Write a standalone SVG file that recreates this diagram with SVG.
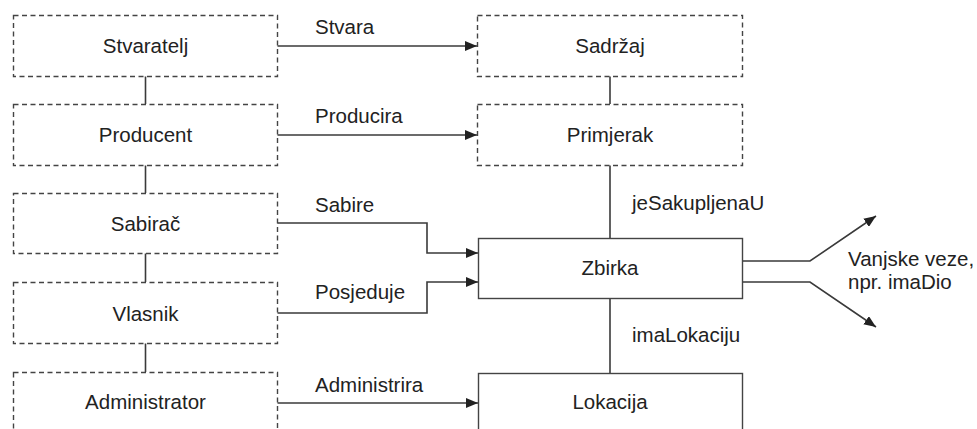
<svg xmlns="http://www.w3.org/2000/svg" width="977" height="429" viewBox="0 0 977 429">
  <style>
    .box { fill: #ffffff; stroke: #444; stroke-width: 1.4; }
    .dash { stroke-dasharray: 5 3.5; }
    .line { fill: none; stroke: #3a3a3a; stroke-width: 1.6; }
    .txt { font-family: "Liberation Sans", Arial, sans-serif; font-size: 20.5px; fill: #222; }
    .mid { text-anchor: middle; }
  </style>
  <defs>
    <marker id="arrow" markerWidth="12" markerHeight="10" refX="12" refY="5" orient="auto" markerUnits="userSpaceOnUse">
      <path d="M0,0 L12,5 L0,10 Z" fill="#222"/>
    </marker>
  </defs>
  <rect width="977" height="429" fill="#ffffff"/>

  <!-- connectors -->
  <g id="connectors">
    <!-- left column links -->
    <line class="line" x1="145.5" y1="76" x2="145.5" y2="104"/>
    <line class="line" x1="145.5" y1="165" x2="145.5" y2="193"/>
    <line class="line" x1="145.5" y1="253" x2="145.5" y2="282"/>
    <line class="line" x1="145.5" y1="343" x2="145.5" y2="372"/>
    <!-- right column links -->
    <line class="line" x1="610" y1="76" x2="610" y2="104"/>
    <line class="line" x1="610" y1="165" x2="610" y2="238"/>
    <line class="line" x1="610" y1="298" x2="610" y2="373"/>
    <!-- relations -->
    <line class="line" x1="277" y1="46" x2="477" y2="46" marker-end="url(#arrow)"/>
    <line class="line" x1="277" y1="135" x2="477" y2="135" marker-end="url(#arrow)"/>
    <polyline class="line" points="277,223 427,223 427,253 478,253" marker-end="url(#arrow)"/>
    <polyline class="line" points="277,313 427,313 427,282 478,282" marker-end="url(#arrow)"/>
    <line class="line" x1="277" y1="403" x2="478" y2="403" marker-end="url(#arrow)"/>
    <!-- outgoing links -->
    <polyline class="line" points="742,261 810,261 876,216" marker-end="url(#arrow)"/>
    <polyline class="line" points="742,282 810,282 876,327" marker-end="url(#arrow)"/>
  </g>

  <!-- connector labels -->
  <g id="labels" class="txt">
    <text x="315" y="34">Stvara</text>
    <text x="315" y="123">Producira</text>
    <text x="315" y="212">Sabire</text>
    <text x="315" y="299">Posjeduje</text>
    <text x="315" y="392">Administrira</text>
    <text x="632" y="210">jeSakupljenaU</text>
    <text x="632" y="342">imaLokaciju</text>
    <text x="848" y="266">Vanjske veze,</text>
    <text x="848" y="289">npr. imaDio</text>
  </g>

  <!-- agent nodes -->
  <g id="stvaratelj">
    <rect class="box dash" x="13.5" y="15.5" width="264" height="61"/>
    <text class="txt mid" x="145.5" y="53">Stvaratelj</text>
  </g>
  <g id="producent">
    <rect class="box dash" x="13.5" y="104.5" width="264" height="61"/>
    <text class="txt mid" x="145.5" y="142">Producent</text>
  </g>
  <g id="sabirac">
    <rect class="box dash" x="13.5" y="193.5" width="264" height="60"/>
    <text class="txt mid" x="145.5" y="231">Sabirač</text>
  </g>
  <g id="vlasnik">
    <rect class="box dash" x="13.5" y="282.5" width="264" height="61"/>
    <text class="txt mid" x="145.5" y="321">Vlasnik</text>
  </g>
  <g id="administrator">
    <rect class="box dash" x="13.5" y="372.5" width="264" height="70"/>
    <text class="txt mid" x="145.5" y="409">Administrator</text>
  </g>

  <!-- object nodes -->
  <g id="sadrzaj">
    <rect class="box dash" x="477.5" y="15.5" width="265" height="61"/>
    <text class="txt mid" x="610" y="53">Sadržaj</text>
  </g>
  <g id="primjerak">
    <rect class="box dash" x="477.5" y="104.5" width="265" height="61"/>
    <text class="txt mid" x="610" y="142">Primjerak</text>
  </g>
  <g id="zbirka">
    <rect class="box" x="478.5" y="238.5" width="264" height="60"/>
    <text class="txt mid" x="610" y="275">Zbirka</text>
  </g>
  <g id="lokacija">
    <rect class="box" x="478.5" y="373.5" width="264" height="70"/>
    <text class="txt mid" x="610" y="409">Lokacija</text>
  </g>
</svg>
